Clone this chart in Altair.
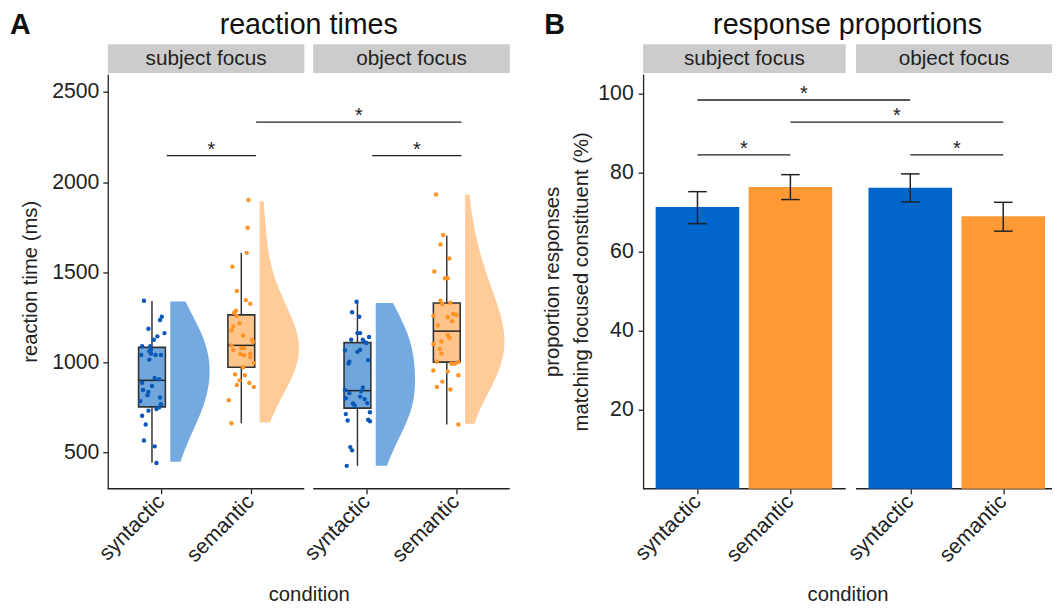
import altair as alt
import pandas as pd

# ------------------------------------------------------------------ data
focus_levels = ["subject focus", "object focus"]
cond_levels = ["syntactic", "semantic"]
panel_titles = ["reaction times", "response proportions"]
panel_letters = ["A", "B"]
x_title = "condition"
y_title_rt = "reaction time (ms)"
y_title_prop = ["proportion responses", "matching focused constituent (%)"]
rt_ticks = [500, 1000, 1500, 2000, 2500]
prop_ticks = [20, 40, 60, 80, 100]
star = "*"

# per-participant reaction times (ms) and their horizontal jitter (category units)
rt_subj_syn = [1342, 1254, 1236, 1187, 1163, 1145, 1126, 1090, 1090, 1071, 1062, 1042, 1042, 1042,
               1049, 1016, 914, 907, 888, 870, 848, 837, 819, 806, 786, 769, 751, 742, 733, 705,
               656, 568, 535, 443]
jit_subj_syn = [-0.09, 0.11, 0.09, -0.04, 0.14, 0.06, 0.02, -0.11, -0.02, -0.01, -0.03, -0.12, 0.04, 0.10,
                -0.01, -0.03, 0.03, 0.08, -0.11, 0.00, -0.10, -0.04, -0.05, 0.09, -0.13, 0.10, 0.08, 0.05,
                -0.04, -0.11, -0.07, -0.09, 0.03, 0.05]
rt_subj_sem = [1901, 1747, 1608, 1531, 1396, 1346, 1326, 1287, 1276, 1258, 1218, 1200, 1178, 1150,
               1125, 1115, 1095, 1081, 1081, 1070, 1049, 1048, 1040, 1029, 998, 974, 934, 929, 901,
               875, 886, 864, 791, 663]
jit_subj_sem = [0.08, 0.07, 0.06, -0.10, -0.05, 0.05, 0.10, -0.06, -0.08, -0.05, -0.02, -0.09, -0.11, 0.02,
                0.12, 0.13, -0.11, 0.00, 0.03, -0.09, 0.10, -0.01, 0.03, 0.10, 0.14, 0.02, -0.07, 0.04,
                -0.02, -0.05, 0.09, 0.14, -0.14, -0.11]
rt_obj_syn = [1337, 1279, 1254, 1163, 1163, 1126, 1126, 1113, 1108, 1141, 1071, 1059, 1068, 1013,
              1005, 994, 830, 861, 841, 848, 811, 797, 802, 773, 760, 775, 724, 714, 678, 683, 674,
              531, 513, 427]
jit_obj_syn = [-0.01, -0.06, 0.02, 0.00, 0.03, -0.07, 0.06, 0.08, 0.10, 0.13, 0.03, 0.00, -0.14, 0.12,
               -0.09, -0.10, -0.09, 0.06, 0.04, -0.14, 0.03, 0.08, -0.13, -0.05, -0.03, 0.11, 0.14,
               -0.13, -0.11, 0.12, 0.14, -0.08, -0.06, -0.12]
rt_obj_sem = [1932, 1707, 1654, 1577, 1505, 1467, 1467, 1342, 1331, 1324, 1260, 1269, 1265, 1251,
              1229, 1205, 1152, 1137, 1117, 1103, 1075, 1049, 1004, 993, 993, 1002, 956, 951, 929,
              894, 864, 850, 656]
jit_obj_sem = [-0.12, -0.04, -0.07, 0.03, -0.14, -0.02, 0.01, -0.07, 0.04, -0.05, -0.15, 0.07, 0.11, 0.01,
               0.06, -0.10, 0.01, 0.03, -0.06, -0.15, -0.08, -0.06, -0.11, 0.05, 0.09, 0.13, -0.15,
               0.01, 0.13, -0.05, -0.11, 0.04, 0.13]

# box statistics per group (subj-syn, subj-sem, obj-syn, obj-sem)
box_lo = [445, 663, 427, 656]
box_q1 = [754, 974, 747, 1002]
box_med = [901, 1095, 844, 1174]
box_q3 = [1084, 1264, 1110, 1330]
box_hi = [1341, 1608, 1337, 1703]

# response proportions (%) with error bars
prop_mean = [71.3, 76.4, 76.2, 69.0]
prop_lo = [67.1, 73.2, 72.6, 65.2]
prop_hi = [75.2, 79.5, 79.7, 72.5]

# significance brackets (group indices and height)
sig_rt_from = [0, 1, 2]
sig_rt_to = [1, 3, 3]
sig_rt_y = [2147, 2333, 2147]
sig_prop_from = [0, 1, 0, 2]
sig_prop_to = [2, 3, 1, 3]
sig_prop_y = [98.4, 92.8, 84.5, 84.5]

groups = [(0, 0), (0, 1), (1, 0), (1, 1)]
rt_lists = [rt_subj_syn, rt_subj_sem, rt_obj_syn, rt_obj_sem]
jit_lists = [jit_subj_syn, jit_subj_sem, jit_obj_syn, jit_obj_sem]

# ------------------------------------------------------------------ style / layout
FONT = "Liberation Sans"
INK = "#222222"
FS_LAB = 21.5
FS_TTL = 20.5
PT_COL = ["#0a58b8", "#ff9326"]
BOX_COL = ["#6fa6dc", "#ffc48a"]
VIO_COL = ["#74aae0", "#ffcc99"]
BAR_COL = ["#0066cc", "#ff9933"]
STRIP_COL = "#cccccc"

WA, HA = 407, 420
WB, HB = 414, 420
A_DOM = [0, 4.5]
A_PANELS = [(0.0, 2.2), (2.3, 4.5)]
A_CAT = [0.6, 1.6]
B_DOM = [0, 4.4]
B_PANELS = [(0.0, 2.18), (2.29, 4.4)]
B_CAT = [0.585, 1.585]
RT_DOM = [300, 2600]
PROP_DOM = [0, 105]
BOX_SHIFT, BOX_HALF = -0.105, 0.15
VIO_SHIFT, VIO_W = 0.1, 0.44
VIO_BW = 180
SIG_SHIFT = 0.06
BAR_HALF, CAP_HALF = 0.45, 0.1


def pos(panels, cats, gi):
    fi, ci = groups[gi]
    return round(panels[fi][0] + cats[ci], 4)


def two_col(c):
    return alt.condition("datum.cond == 'syntactic'", alt.value(c[0]), alt.value(c[1]))


def label_expr(ticks):
    expr = "''"
    for (f, c), v in reversed(list(zip(groups, ticks))):
        expr = "abs(datum.value - %s) < 0.001 ? '%s' : (%s)" % (v, cond_levels[c], expr)
    return expr


def x_axis(ticks):
    return alt.Axis(values=ticks, labelExpr=label_expr(ticks), labelAngle=-45,
                    domain=False, title=x_title, titlePadding=19, labelPadding=-3,
                    labelOffset=-8)


def qx(field, scale, axis):
    return alt.X(field, type="quantitative", scale=scale, axis=axis)


def qy(field, scale, axis):
    return alt.Y(field, type="quantitative", scale=scale, axis=axis)


def decorations(panels, W, H, xs, xax, title, letter, letter_dx):
    strips = pd.DataFrame({"label": focus_levels,
                           "x0": [p[0] for p in panels],
                           "x1": [p[1] for p in panels]})
    base = alt.Chart(strips).transform_calculate(xm="(datum.x0 + datum.x1) / 2")
    strip_rect = base.mark_rect(color=STRIP_COL).encode(
        x=qx("x0", xs, xax), x2="x1", y=alt.value(-30), y2=alt.value(-1))
    strip_text = base.mark_text(font=FONT, fontSize=21, color=INK, baseline="middle").encode(
        x=qx("xm", xs, xax), y=alt.value(-15), text="label:N")
    axis_line = base.mark_rule(color=INK, strokeWidth=1.3).encode(
        x=qx("x0", xs, xax), x2="x1", y=alt.value(H))
    tdf = pd.DataFrame({"t": [title], "l": [letter]})
    ttl = alt.Chart(tdf).mark_text(font=FONT, fontSize=29, color="#111", baseline="alphabetic").encode(
        text="t:N", x=alt.value(W / 2), y=alt.value(-40))
    let = alt.Chart(tdf).mark_text(font=FONT, fontSize=29, fontWeight="bold", color="#111",
                                   align="left", baseline="alphabetic").encode(
        text="l:N", x=alt.value(letter_dx), y=alt.value(-40))
    return [strip_rect, strip_text, axis_line, ttl, let]


def sig_layers(frm, to, ys, panels, cats, xs, xax, yscale, yax, shift):
    df = pd.DataFrame({"a": [pos(panels, cats, g) for g in frm],
                       "b": [pos(panels, cats, g) for g in to],
                       "y": ys})
    base = alt.Chart(df).transform_calculate(
        x0="datum.a + %f" % shift, x1="datum.b + %f" % shift,
        xm="(datum.a + datum.b) / 2 + %f" % shift)
    line = base.mark_rule(color=INK, strokeWidth=1.3).encode(
        x=qx("x0", xs, xax), x2="x1", y=qy("y", yscale, yax))
    txt = base.mark_text(text=star, font=FONT, fontSize=20, color=INK, baseline="alphabetic", dy=0).encode(
        x=qx("xm", xs, xax), y=qy("y", yscale, yax))
    return [line, txt]


# ------------------------------------------------------------------ panel A
xA = alt.Scale(domain=A_DOM, nice=False, zero=False)
yA = alt.Scale(domain=RT_DOM, nice=False, zero=False)
tickA = [pos(A_PANELS, A_CAT, g) for g in range(4)]
axXA = x_axis(tickA)
axYA = alt.Axis(values=rt_ticks, format="d", title=y_title_rt, titlePadding=11, labelPadding=4)

rows = []
for gi, (fi, ci) in enumerate(groups):
    for r, j in zip(rt_lists[gi], jit_lists[gi]):
        rows.append({"focus": focus_levels[fi], "cond": cond_levels[ci], "grp": gi,
                     "rt": r, "jit": j, "pos": pos(A_PANELS, A_CAT, gi)})
pts = pd.DataFrame(rows)

violin = alt.Chart(pts).transform_joinaggregate(
    mn="min(rt)", mx="max(rt)", groupby=["grp"]
).transform_density(
    density="rt", as_=["value", "density"], groupby=["grp", "cond", "pos", "mn", "mx"],
    bandwidth=VIO_BW, steps=200
).transform_filter(
    "datum.value >= datum.mn - 0.5 && datum.value <= datum.mx + 0.5"
).transform_joinaggregate(
    maxd="max(density)", groupby=["grp"]
).transform_calculate(
    v0="datum.pos + %f" % VIO_SHIFT,
    vx="datum.pos + %f + %f * datum.density / datum.maxd" % (VIO_SHIFT, VIO_W)
).mark_area(orient="horizontal", opacity=1).encode(
    y=qy("value", yA, axYA),
    x=alt.X("vx:Q", scale=xA, axis=axXA, stack=None),
    x2="v0:Q",
    color=two_col(VIO_COL),
    detail="grp:N",
)

boxdf = pd.DataFrame({"cond": [cond_levels[c] for f, c in groups],
                      "pos": tickA, "lo": box_lo, "q1": box_q1, "med": box_med,
                      "q3": box_q3, "hi": box_hi})
bbase = alt.Chart(boxdf).transform_calculate(
    bc="datum.pos + %f" % BOX_SHIFT,
    b0="datum.pos + %f" % (BOX_SHIFT - BOX_HALF),
    b1="datum.pos + %f" % (BOX_SHIFT + BOX_HALF))
whisk = bbase.mark_rule(color="#333333", strokeWidth=1.5).encode(
    x=qx("bc", xA, axXA), y=qy("lo", yA, axYA), y2="hi")
boxr = bbase.mark_rect(stroke="#333333", strokeWidth=1.6).encode(
    x=qx("b0", xA, axXA), x2="b1", y=qy("q1", yA, axYA), y2="q3", fill=two_col(BOX_COL))
med = bbase.mark_rule(color="#222222", strokeWidth=1.5).encode(
    x=qx("b0", xA, axXA), x2="b1", y=qy("med", yA, axYA))

points = alt.Chart(pts).transform_calculate(
    px="datum.pos + %f + datum.jit" % BOX_SHIFT
).mark_circle(size=20, opacity=1).encode(
    x=qx("px", xA, axXA),
    y=qy("rt", yA, axYA),
    color=two_col(PT_COL),
)

chartA = alt.layer(
    *decorations(A_PANELS, WA, HA, xA, axXA, panel_titles[0], panel_letters[0], -99),
    violin, whisk, boxr, med, points,
    *sig_layers(sig_rt_from, sig_rt_to, sig_rt_y, A_PANELS, A_CAT, xA, axXA, yA, axYA, SIG_SHIFT),
).properties(width=WA, height=HA)

# ------------------------------------------------------------------ panel B
xB = alt.Scale(domain=B_DOM, nice=False, zero=False)
yB = alt.Scale(domain=PROP_DOM, nice=False, zero=False)
tickB = [pos(B_PANELS, B_CAT, g) for g in range(4)]
axXB = x_axis(tickB)
axYB = alt.Axis(values=prop_ticks, title=y_title_prop, titlePadding=6,
                labelPadding=5, titleLineHeight=30)

bars = pd.DataFrame({"cond": [cond_levels[c] for f, c in groups], "pos": tickB,
                     "m": prop_mean, "lo": prop_lo, "hi": prop_hi})
bb = alt.Chart(bars).transform_calculate(
    x0="datum.pos - %f" % BAR_HALF, x1="datum.pos + %f" % BAR_HALF,
    c0="datum.pos - %f" % CAP_HALF, c1="datum.pos + %f" % CAP_HALF, zero="0")
bar = bb.mark_rect().encode(
    x=qx("x0", xB, axXB), x2="x1", y=qy("m", yB, axYB), y2="zero:Q", fill=two_col(BAR_COL))
err = bb.mark_rule(color=INK, strokeWidth=1.5).encode(
    x=qx("pos", xB, axXB), y=qy("lo", yB, axYB), y2="hi")
cap_lo = bb.mark_rule(color=INK, strokeWidth=1.5).encode(
    x=qx("c0", xB, axXB), x2="c1", y=qy("lo", yB, axYB))
cap_hi = bb.mark_rule(color=INK, strokeWidth=1.5).encode(
    x=qx("c0", xB, axXB), x2="c1", y=qy("hi", yB, axYB))

chartB = alt.layer(
    *decorations(B_PANELS, WB, HB, xB, axXB, panel_titles[1], panel_letters[1], -100),
    bar, err, cap_lo, cap_hi,
    *sig_layers(sig_prop_from, sig_prop_to, sig_prop_y, B_PANELS, B_CAT, xB, axXB, yB, axYB, 0.0),
).properties(width=WB, height=HB)

chart = alt.hconcat(chartA, chartB, spacing=32).properties(
    padding={"left": 2, "top": 0, "right": 0, "bottom": 0}
).configure_view(stroke=None).configure_axis(
    labelFont=FONT, titleFont=FONT, labelFontSize=FS_LAB, titleFontSize=FS_TTL,
    labelColor=INK, titleColor=INK, tickColor=INK, domainColor=INK,
    titleFontWeight="normal", grid=False, tickSize=5, domainWidth=1.3, tickWidth=1.3,
)

chart.save("out.html", embed_options={"renderer": "svg", "actions": False})
